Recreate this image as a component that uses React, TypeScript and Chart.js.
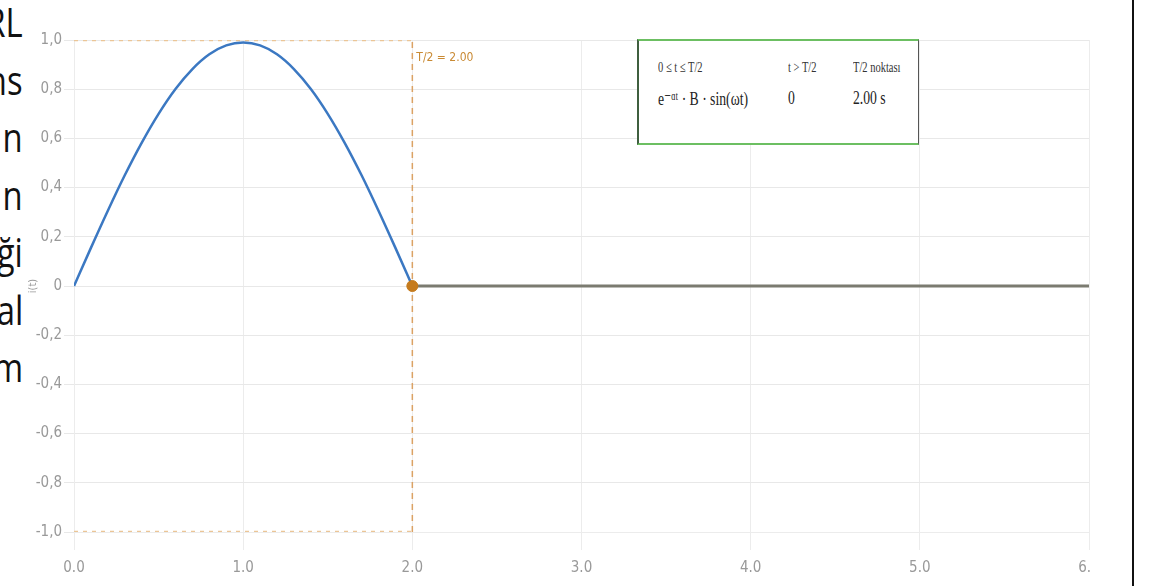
import React, { useEffect, useRef } from "react";
import { Chart, registerables } from "chart.js";

Chart.register(...registerables);

// Half-period switching instant (s)
const T_HALF = 2.0;
const T_END = 6.0;

// Current during 0 <= t <= T/2, sampled every 0.1 s
const CONDUCTION_T = [0, 0.1, 0.2, 0.3, 0.4, 0.5, 0.6, 0.7, 0.8, 0.9, 1.0, 1.1, 1.2, 1.3, 1.4, 1.5, 1.6, 1.7, 1.8, 1.9, 2.0];
const CONDUCTION_I = [0, 0.155, 0.306, 0.45, 0.582, 0.7, 0.801, 0.882, 0.942, 0.978, 0.99, 0.978, 0.942, 0.882, 0.801, 0.7, 0.582, 0.45, 0.306, 0.155, 0];

// Current after t > T/2
const OFF_T = [T_HALF, T_END];
const OFF_I = [0, 0];

// Envelope guides at +1 / -1 over the conduction interval
const GUIDE_T = [0, T_HALF];
const GUIDE_UPPER = [1, 1];
const GUIDE_LOWER = [-1, -1];

// Info box rows
const INFO_HEADERS = ["0 ≤ t ≤ T/2", "t > T/2", "T/2 noktası"];
const INFO_VALUES = ["e⁻ᵅᵗ · B · sin(ωt)", "0", "2.00 s"];

// Slide text fragments beside the chart
const SIDE_TEXT = ["RL", "ns", "n", "n", "ği", "al", "m"];

const NARROW = "'Liberation Sans Narrow', 'DejaVu Sans Condensed', 'Arial Narrow', sans-serif";

const pts = (xs: number[], ys: number[]) => xs.map((x, i) => ({ x, y: ys[i] }));

const markerLabel = {
  id: "markerLabel",
  afterDatasetsDraw(chart: any) {
    const { ctx, scales } = chart;
    const x = scales.x.getPixelForValue(T_HALF);
    const y = scales.y.getPixelForValue(1);
    ctx.save();
    ctx.font = `12px ${NARROW}`;
    ctx.fillStyle = "#c98a34";
    ctx.textBaseline = "middle";
    ctx.textAlign = "left";
    ctx.fillText(`T/2 = ${T_HALF.toFixed(2)}`, x + 4, y + 18);
    ctx.restore();
  },
};

function CurrentChart() {
  const ref = useRef<HTMLCanvasElement | null>(null);

  useEffect(() => {
    if (!ref.current) return;
    const chart = new Chart(ref.current, {
      type: "line",
      data: {
        datasets: [
          {
            data: [{ x: T_HALF, y: 0 }],
            pointRadius: 5.5,
            pointBackgroundColor: "#c57b1d",
            pointBorderColor: "#c57b1d",
            showLine: false,
            order: 0,
          },
          {
            data: pts(CONDUCTION_T, CONDUCTION_I),
            borderColor: "#3b78c2",
            borderWidth: 2.5,
            pointRadius: 0,
            tension: 0.4,
            cubicInterpolationMode: "monotone",
            order: 1,
          },
          {
            data: pts(OFF_T, OFF_I),
            borderColor: "#7b7b70",
            borderWidth: 3,
            pointRadius: 0,
            order: 2,
          },
          {
            data: [{ x: T_HALF, y: -1 }, { x: T_HALF, y: 1 }],
            borderColor: "#dba264",
            borderWidth: 1.5,
            borderDash: [6, 5],
            pointRadius: 0,
            order: 3,
          },
          {
            data: pts(GUIDE_T, GUIDE_UPPER),
            borderColor: "#ebc596",
            borderWidth: 2.5,
            borderDash: [4, 5],
            pointRadius: 0,
            order: 4,
          },
          {
            data: pts(GUIDE_T, GUIDE_LOWER),
            borderColor: "#ebc596",
            borderWidth: 2.5,
            borderDash: [4, 5],
            pointRadius: 0,
            order: 4,
          },
        ],
      },
      options: {
        animation: false,
        responsive: false,
        events: [],
        layout: { padding: { top: 40, right: 35, left: 0, bottom: 0 } },
        plugins: { legend: { display: false }, tooltip: { enabled: false } },
        scales: {
          x: {
            type: "linear",
            min: 0,
            max: T_END,
            afterFit: (s: any) => {
              s.height = 54;
            },
            ticks: {
              stepSize: 1,
              padding: 9,
              color: "#999999",
              font: { family: NARROW, size: 15 },
              callback: (v: any) => Number(v).toFixed(1),
            },
            grid: { color: "#ececec", tickLength: 18, tickColor: "#ececec" },
            border: { color: "#ececec" },
          },
          y: {
            min: -1,
            max: 1,
            afterFit: (s: any) => {
              s.width = 50;
            },
            ticks: {
              stepSize: 0.2,
              padding: 2,
              color: "#999999",
              font: { family: NARROW, size: 15 },
              callback: (v: any) => {
                const n = Number(v);
                if (Math.abs(n) < 1e-9) return "0";
                return n.toFixed(1).replace(".", ",");
              },
            },
            grid: { color: "#e8e8e8", tickLength: 10, tickColor: "#e8e8e8" },
            border: { color: "#ececec" },
            title: {
              display: true,
              text: "i(t)",
              color: "#9a9a9a",
              font: { family: NARROW, size: 11 },
              padding: { top: 3, bottom: 2 },
            },
          },
        },
      },
      plugins: [markerLabel],
    });
    return () => chart.destroy();
  }, []);

  return <canvas ref={ref} width={1100} height={586} style={{ display: "block", width: 1100, height: 586 }} />;
}

export default function App() {
  useEffect(() => {
    document.body.style.margin = "0";
  }, []);

  const serif = "'Liberation Serif', 'DejaVu Serif', serif";

  return (
    <div
      style={{
        position: "fixed",
        left: 0,
        top: 0,
        width: 1171,
        height: 586,
        overflow: "hidden",
        background: "#ffffff",
      }}
    >
      {SIDE_TEXT.map((t, i) => (
        <div
          key={i}
          style={{
            position: "absolute",
            right: 1171 - 23,
            top: -7 + i * 57.5,
            font: "40px 'Open Sans', 'Noto Sans', sans-serif",
            color: "#111",
            whiteSpace: "nowrap",
            lineHeight: "57px",
            transform: "scaleX(0.82)",
            transformOrigin: "right center",
          }}
        >
          {t}
        </div>
      ))}

      <div style={{ position: "absolute", left: 24, top: 0, width: 1068, height: 586, overflow: "hidden" }}>
        <CurrentChart />
      </div>

      <div
        style={{
          position: "absolute",
          left: 637,
          top: 39,
          width: 279,
          height: 102,
          background: "#ffffff",
          borderTop: "2px solid #6cbf62",
          borderBottom: "2px solid #6cbf62",
          borderLeft: "2px solid #3f5f3f",
          borderRight: "1px solid #555",
        }}
      >
        {[0, 1, 2].map((c) => {
          const lefts = [19, 149, 214];
          return (
            <React.Fragment key={c}>
              <div
                style={{
                  position: "absolute",
                  left: lefts[c],
                  top: 18,
                  font: `15px ${serif}`,
                  color: "#333",
                  whiteSpace: "nowrap",
                  transform: "scaleX(0.7)",
                  transformOrigin: "left center",
                }}
              >
                {INFO_HEADERS[c]}
              </div>
              <div
                style={{
                  position: "absolute",
                  left: lefts[c],
                  top: 46,
                  font: `19px ${serif}`,
                  color: "#222",
                  whiteSpace: "nowrap",
                  transform: "scaleX(0.72)",
                  transformOrigin: "left center",
                }}
              >
                {INFO_VALUES[c]}
              </div>
            </React.Fragment>
          );
        })}
      </div>

      <div style={{ position: "absolute", left: 1132, top: 0, width: 2, height: 586, background: "#111" }} />
    </div>
  );
}
